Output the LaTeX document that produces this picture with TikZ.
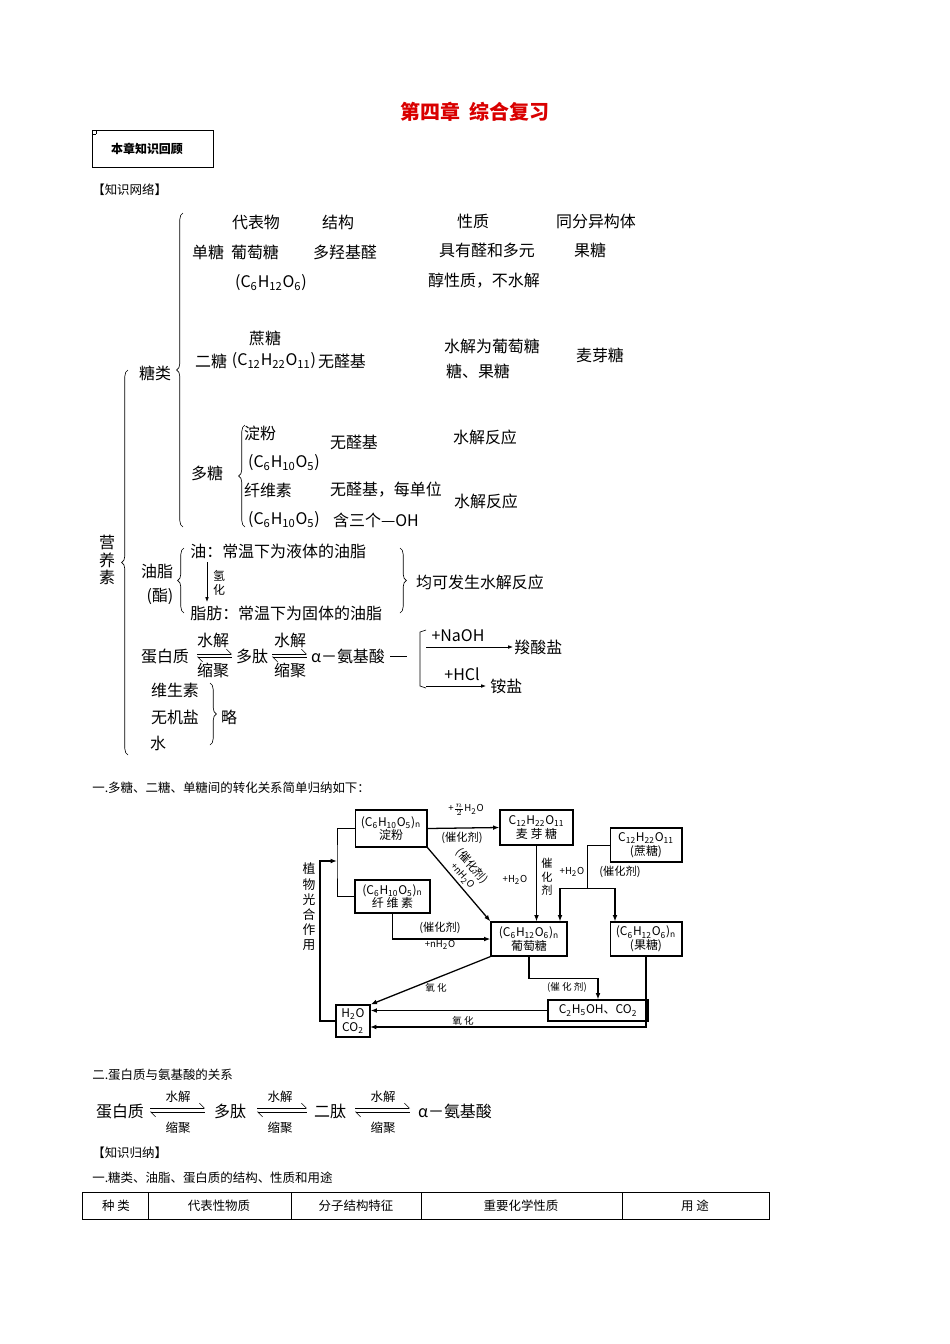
\documentclass[tikz,border=0pt]{standalone}
\usepackage{fontspec}
\setmainfont{Noto Sans CJK SC}
\usetikzlibrary{positioning, calc, arrows.meta, decorations.pathreplacing}
\newcommand{\sbs}[1]{\textsubscript{#1}}
\tikzset{
	net/.style={font=\fontsize{10}{12}\selectfont, inner sep=0pt},
	small/.style={font=\fontsize{7.8}{9}\selectfont, inner sep=0pt},
	lbl/.style={font=\fontsize{6}{7}\selectfont, inner sep=0pt},
	box/.style={draw, thick, font=\fontsize{7.5}{8.5}\selectfont, align=center, inner sep=0pt, line width=0.7pt},
	brc/.style={decorate, decoration={brace, amplitude=4pt}, thin},
	arr/.style={-{Latex[length=4pt]}, thick},
	fwd/.style={-{Straight Barb[left, length=3pt]}},
	bwd/.style={{Straight Barb[left, length=3pt]}-},
}
\begin{document}
\begin{tikzpicture}[x=0.626pt, y=-0.626pt]
	\useasboundingbox (0,0) rectangle (950,1344);

	% heading
	\node[font=\fontsize{12.5}{14}\selectfont\bfseries, text=red!85!black] (title) at (475,112) {第四章\ \ 综合复习};
	\draw (92,130) rectangle (213,167);
	\draw (96,134) -- (96,130) (92,134) -- (96,134);
	\node[small, font=\fontsize{7.5}{9}\selectfont\bfseries] (recall) at (147,149) {本章知识回顾};
	\node[small, anchor=west] (net) at (92,190) {【知识网络】};

	% nutrients
	\draw[brc] (128,755) -- (128,370);
	\node[net, align=center, font=\fontsize{10}{11}\selectfont] (yys) at (107,560) {营\\养\\素};
	\node[net] (tl) at (155,373) {糖类};
	\draw[brc] (183,527) -- (183,213);
	\node[net] at (256,222) {代表物};
	\node[net] at (338,222) {结构};
	\node[net] at (473,221) {性质};
	\node[net] at (596,221) {同分异构体};
	\node[net] at (208,252) {单糖};
	\node[net] at (255,252) {葡萄糖};
	\node[net] at (345,252) {多羟基醛};
	\node[net] at (487,250) {具有醛和多元};
	\node[net] at (590,250) {果糖};
	\node[net] at (271,283) {(C\sbs{6}H\sbs{12}O\sbs{6})};
	\node[net] at (484,281) {醇性质，不水解};
	\node[net] at (265,338) {蔗糖};
	\node[net] at (211,361) {二糖};
	\node[net] at (274,361) {(C\sbs{12}H\sbs{22}O\sbs{11})};
	\node[net] at (342,361) {无醛基};
	\node[net] at (492,346) {水解为葡萄糖};
	\node[net] at (478,371) {糖、果糖};
	\node[net] at (600,355) {麦芽糖};
	\draw[brc] (245,527) -- (245,425);
	\node[net] at (260,433) {淀粉};
	\node[net] at (354,442) {无醛基};
	\node[net] at (485,437) {水解反应};
	\node[net] at (207,473) {多糖};
	\node[net] at (284,463) {(C\sbs{6}H\sbs{10}O\sbs{5})};
	\node[net] at (268,490) {纤维素};
	\node[net] at (386,490) {无醛基，每单位};
	\node[net] at (486,501) {水解反应};
	\node[net] at (284,520) {(C\sbs{6}H\sbs{10}O\sbs{5})};
	\node[net] at (376,520) {含三个—OH};

	% fats
	\node[net] (yz) at (157,571) {油脂};
	\node[net] at (160,596) {(酯)};
	\draw[brc] (184,613) -- (184,548);
	\node[net, anchor=west] (you) at (190,551) {油：常温下为液体的油脂};
	\node[net, anchor=west] (zf) at (190,613) {脂肪：常温下为固体的油脂};
	\draw[-{Latex[length=3pt]}] (207,562) -- (207,602);
	\node[lbl, font=\fontsize{7.5}{8.5}\selectfont, align=center] at (219,583) {氢\\化};
	\draw[brc] (400,548) -- (400,613);
	\node[net] (sj) at (480,582) {均可发生水解反应};

	% proteins
	\node[net] (dbz) at (165,656) {蛋白质};
	\draw[fwd] (197,654) -- (232,654);
	\draw[bwd] (197,657) -- (232,657);
	\node[net] at (213,640) {水解};
	\node[net] at (213,670) {缩聚};
	\node[net] (dt) at (252,656) {多肽};
	\draw[fwd] (272,654) -- (307,654);
	\draw[bwd] (272,657) -- (307,657);
	\node[net] at (290,640) {水解};
	\node[net] at (290,670) {缩聚};
	\node[net] (ajs) at (348,656) {α－氨基酸};
	\draw (390,656) -- (407,656);
	\draw (426,630) -- (420,632) -- (420,686) -- (426,688);
	\draw[-{Latex[length=3pt]}] (426,647) -- (513,647);
	\node[net] at (458,636) {+NaOH};
	\node[net, anchor=west] at (514,647) {羧酸盐};
	\draw[-{Latex[length=3pt]}] (426,686) -- (486,686);
	\node[net] at (462,674) {+HCl};
	\node[net, anchor=west] at (490,686) {铵盐};
	\node[net] at (175,690) {维生素};
	\node[net] at (175,717) {无机盐};
	\node[net] at (158,743) {水};
	\draw[brc] (210,683) -- (210,745);
	\node[net] at (229,717) {略};

	% sugar conversions
	\node[small, anchor=west] at (92,788) {一.多糖、二糖、单糖间的转化关系简单归纳如下：};
	\node[box, minimum width=45pt, minimum height=23.2pt] (dianfen) at (391,828.5) {(C\sbs{6}H\sbs{10}O\sbs{5})\sbs{n}\\淀粉};
	\node[box, minimum width=45.7pt, minimum height=21.9pt] (maiya) at (536.5,827.5) {C\sbs{12}H\sbs{22}O\sbs{11}\\麦 芽 糖};
	\node[box, minimum width=45pt, minimum height=21.3pt] (zhetang) at (646,845) {C\sbs{12}H\sbs{22}O\sbs{11}\\(蔗糖)};
	\node[box, minimum width=47pt, minimum height=20.7pt] (xianwei) at (392.5,896.5) {(C\sbs{6}H\sbs{10}O\sbs{5})\sbs{n}\\纤 维 素};
	\node[box, minimum width=47.6pt, minimum height=21.3pt] (putao) at (529,939) {(C\sbs{6}H\sbs{12}O\sbs{6})\sbs{n}\\葡萄糖};
	\node[box, minimum width=45pt, minimum height=21.3pt] (guotang) at (646,939) {(C\sbs{6}H\sbs{12}O\sbs{6})\sbs{n}\\(果糖)};
	\node[box, minimum width=62.6pt, minimum height=13.1pt] (yichun) at (598,1010.5) {C\sbs{2}H\sbs{5}OH、CO\sbs{2}};
	\node[box, minimum width=21.3pt, minimum height=20pt] (shui) at (353,1021) {H\sbs{2}O\\CO\sbs{2}};
	\coordinate (gh) at (320,861);
	\coordinate (fen) at (337,861);
	\coordinate (zt) at (587,888);
	\coordinate (ztl) at (560,888);
	\coordinate (ztr) at (615,888);
	\coordinate (sh2) at (370,1027);

	\draw[arr] (dianfen.east) -- (maiya.west);
	\node[lbl] at (466,810) {+$\frac{n}{2}$H\sbs{2}O};
	\node[lbl, font=\fontsize{7}{8}\selectfont] at (462,838) {(催化剂)};
	\draw[arr] (dianfen.south east) -- (putao.north west);
	\node[lbl, font=\fontsize{7}{8}\selectfont, rotate=-49] at (472,866) {(催化剂)};
	\node[lbl, rotate=-49] at (462,876) {+nH\sbs{2}O};
	\draw[arr] (maiya.south) -- (maiya.south |- putao.north);
	\node[lbl] at (515,880) {+H\sbs{2}O};
	\node[lbl, font=\fontsize{7}{8.5}\selectfont, align=center] at (547,877) {催\\化\\剂};
	\node[lbl] at (572,872) {+H\sbs{2}O};
	\draw (zhetang.west) -| (zt);
	\draw (ztl) -- (ztr);
	\draw[arr] (ztl) -- (ztl |- putao.north);
	\draw[arr] (ztr) -- (ztr |- guotang.north);
	\node[lbl, font=\fontsize{7}{8}\selectfont] at (620,872) {(催化剂)};
	\draw[arr] (xianwei.south) |- (putao.west);
	\node[lbl, font=\fontsize{7}{8}\selectfont] at (440,928) {(催化剂)};
	\node[lbl] at (440,945) {+nH\sbs{2}O};
	\draw[arr] (shui.west) -| (gh) -- (fen);
	\draw (dianfen.west) -| (fen) |- (xianwei.west);
	\node[lbl, font=\fontsize{8}{9.5}\selectfont, align=center] (gh-lbl) at (309,907) {植\\物\\光\\合\\作\\用};
	\draw[arr] (putao.south west) -- (shui.north east);
	\node[lbl] at (436,988) {氧 化};
	\draw[arr] (putao.south) -- ++(0,22) -| (yichun.north);
	\node[lbl] at (567,987) {(催 化 剂)};
	\draw[arr] (yichun.west) -- (shui.east |- yichun.west);
	\draw[arr] (guotang.south) |- (sh2);
	\node[lbl] at (463,1021) {氧 化};

	% protein and amino acid
	\node[small, anchor=west] at (92,1075) {二.蛋白质与氨基酸的关系};
	\node[net] (dbz2) at (120,1111) {蛋白质};
	\node[net] (dt2) at (230,1111) {多肽};
	\node[net] (et2) at (330,1111) {二肽};
	\node[net] (ajs2) at (455,1111) {α－氨基酸};
	\foreach \a/\b/\m in {150/205/178, 257/307/280, 355/410/383} {
		\draw[fwd] (\a,1108) -- (\b,1108);
		\draw[bwd] (\a,1112) -- (\b,1112);
		\node[small] at (\m,1097) {水解};
		\node[small] at (\m,1128) {缩聚};
	}

	% table
	\node[small, anchor=west] at (92,1153) {【知识归纳】};
	\node[small, anchor=west] at (92,1178) {一.糖类、油脂、蛋白质的结构、性质和用途};
	\draw (82,1192) rectangle (769,1219);
	\foreach \x in {148, 291, 421, 622} \draw (\x,1192) -- (\x,1219);
	\node[small] at (116,1205.5) {种 类};
	\node[small] at (219,1205.5) {代表性物质};
	\node[small] at (356,1205.5) {分子结构特征};
	\node[small] at (521,1205.5) {重要化学性质};
	\node[small] at (695,1205.5) {用 途};
\end{tikzpicture}
\end{document}
